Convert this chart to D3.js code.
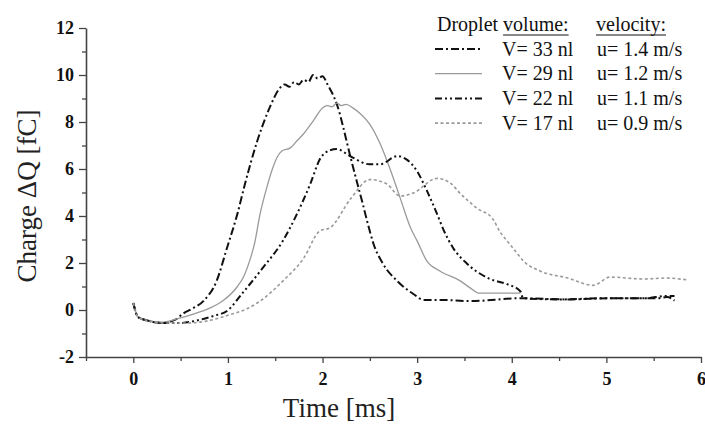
<!DOCTYPE html>
<html><head><meta charset="utf-8">
<script src="https://cdn.jsdelivr.net/npm/d3@7"></script>
<style>body{margin:0;background:#fff}svg{display:block}</style>
</head><body>
<svg id="c" width="705" height="427"></svg>
<script>
// ---- data ----
const xTicks = [0, 1, 2, 3, 4, 5, 6];
const yTicks = [-2, 0, 2, 4, 6, 8, 10, 12];

const t33 = [0, 0.05, 0.15, 0.3, 0.45, 0.52, 0.62, 0.74, 0.88, 0.99, 1.10, 1.18, 1.31, 1.44, 1.55, 1.60, 1.65, 1.70, 1.75, 1.80, 1.85, 1.90, 1.95, 2.00, 2.05, 2.15, 2.29, 2.36, 2.42, 2.47, 2.54, 2.64, 2.79, 2.96, 3.07, 3.24, 3.56, 4.09, 4.6, 5.04, 5.22, 5.54, 5.64, 5.72];
const q33 = [0.3, -0.3, -0.45, -0.55, -0.4, -0.17, 0.05, 0.38, 1.23, 2.64, 4.09, 5.36, 7.19, 8.6, 9.45, 9.6, 9.5, 9.7, 9.6, 9.8, 9.7, 10.0, 9.85, 9.95, 9.62, 8.77, 6.6, 5.5, 4.6, 3.8, 2.8, 1.96, 1.23, 0.68, 0.43, 0.43, 0.38, 0.5, 0.45, 0.5, 0.5, 0.5, 0.55, 0.4];

const t29 = [0, 0.05, 0.15, 0.3, 0.46, 0.65, 0.82, 0.95, 1.1, 1.17, 1.23, 1.28, 1.34, 1.41, 1.47, 1.52, 1.57, 1.66, 1.73, 1.8, 1.9, 2.0, 2.05, 2.1, 2.15, 2.2, 2.25, 2.32, 2.4, 2.5, 2.61, 2.71, 2.82, 2.93, 3.0, 3.1, 3.24, 3.46, 3.56, 3.65, 4.09];
const q29 = [0.3, -0.3, -0.45, -0.52, -0.38, -0.15, 0.1, 0.4, 1.0, 1.45, 2.1, 2.8, 4.09, 5.2, 6.0, 6.5, 6.77, 6.9, 7.2, 7.5, 8.04, 8.6, 8.7, 8.65, 8.8, 8.7, 8.75, 8.6, 8.35, 7.9, 7.06, 6.04, 4.77, 3.5, 2.94, 2.1, 1.66, 1.23, 0.94, 0.72, 0.72];

const t22 = [0, 0.05, 0.15, 0.3, 0.5, 0.67, 0.85, 0.99, 1.16, 1.37, 1.58, 1.73, 1.87, 1.97, 2.08, 2.15, 2.29, 2.5, 2.61, 2.79, 2.89, 3.0, 3.1, 3.21, 3.28, 3.38, 3.53, 3.77, 3.95, 4.09, 4.12, 4.5, 5.0, 5.4, 5.64, 5.72];
const q22 = [0.3, -0.3, -0.45, -0.55, -0.55, -0.45, -0.25, -0.04, 0.75, 1.8, 2.94, 4.09, 5.36, 6.4, 6.8, 6.85, 6.55, 6.2, 6.2, 6.55, 6.4, 5.9, 5.1, 4.09, 3.4, 2.64, 1.96, 1.32, 1.1, 0.8, 0.5, 0.45, 0.5, 0.5, 0.6, 0.6];

const t17 = [0, 0.05, 0.15, 0.3, 0.5, 0.6, 0.8, 1.02, 1.2, 1.34, 1.58, 1.8, 1.97, 2.08, 2.3, 2.5, 2.68, 2.82, 2.96, 3.21, 3.35, 3.46, 3.63, 3.8, 3.88, 3.95, 4.06, 4.12, 4.3, 4.59, 4.86, 5.04, 5.39, 5.64, 5.85];
const q17 = [0.3, -0.3, -0.45, -0.55, -0.55, -0.55, -0.45, -0.2, 0.05, 0.38, 1.23, 2.2, 3.36, 3.5, 4.75, 5.55, 5.36, 4.85, 4.98, 5.6, 5.4, 4.94, 4.34, 3.87, 3.3, 2.94, 2.4, 2.1, 1.66, 1.36, 1.05, 1.4, 1.32, 1.36, 1.28];

const volumes = ["V= 33 nl", "V= 29 nl", "V= 22 nl", "V= 17 nl"];
const velocities = ["u= 1.4 m/s", "u= 1.2 m/s", "u= 1.1 m/s", "u= 0.9 m/s"];

// ---- styles ----
const styles = [
  {stroke: "#111", width: 2.0, dash: "8,3,2,3"},
  {stroke: "#9a9a9a", width: 1.3, dash: null},
  {stroke: "#111", width: 2.0, dash: "7,3,2,3,2,3"},
  {stroke: "#9a9a9a", width: 1.6, dash: "3,2.5"}
];
const seriesT = [t33, t29, t22, t17];
const seriesQ = [q33, q29, q22, q17];

const svg = d3.select("#c");
const x = d3.scaleLinear().domain([-0.5, 6]).range([86, 701]);
const y = d3.scaleLinear().domain([-2, 12]).range([357, 28]);
const serif = "'Liberation Serif','Times New Roman',serif";
const axisColor = "#444";
const fmt = d => String(d);

// axes
const xAxis = svg.append("g").attr("transform", `translate(0,${y(-2)})`)
  .call(d3.axisBottom(x).tickValues(xTicks).tickFormat(fmt).tickSize(6).tickSizeOuter(0));
const yAxis = svg.append("g").attr("transform", `translate(${x(-0.5)},0)`)
  .call(d3.axisLeft(y).tickValues(yTicks).tickFormat(fmt).tickSize(7).tickSizeOuter(0));
// minor ticks
svg.append("g").attr("transform", `translate(0,${y(-2)})`)
  .call(d3.axisBottom(x).tickValues([-0.5,0.5,1.5,2.5,3.5,4.5,5.5]).tickFormat("").tickSize(4).tickSizeOuter(0))
  .call(g => g.select(".domain").remove());
svg.append("g").attr("transform", `translate(${x(-0.5)},0)`)
  .call(d3.axisLeft(y).tickValues([-1,1,3,5,7,9,11]).tickFormat("").tickSize(4).tickSizeOuter(0))
  .call(g => g.select(".domain").remove());
svg.selectAll(".domain").attr("stroke", axisColor).attr("stroke-width", 1.6);
svg.selectAll(".tick line").attr("stroke", axisColor).attr("stroke-width", 1.3);
xAxis.selectAll("text").style("font-family", serif).style("font-weight", "bold").style("font-size", "18px").attr("fill", "#111").attr("dy", "1.05em");
yAxis.selectAll("text").style("font-family", serif).style("font-weight", "bold").style("font-size", "18px").attr("fill", "#111").attr("x", -12);

// axis titles
svg.append("text").attr("x", 339).attr("y", 417).attr("text-anchor", "middle")
  .attr("font-family", serif).attr("font-size", 27).attr("fill", "#222").text("Time [ms]");
svg.append("text").attr("transform", "translate(36,196) rotate(-90)").attr("text-anchor", "middle")
  .attr("font-family", serif).attr("font-size", 27).attr("fill", "#222").text("Charge ΔQ [fC]");

// lines
const line = d3.line().x(d => x(d[0])).y(d => y(d[1])).curve(d3.curveMonotoneX);
seriesT.forEach((ts, i) => {
  const pts = ts.map((t, j) => [t, seriesQ[i][j]]);
  svg.append("path").datum(pts).attr("d", line).attr("fill", "none")
    .attr("stroke", styles[i].stroke).attr("stroke-width", styles[i].width)
    .attr("stroke-dasharray", styles[i].dash).attr("stroke-linejoin", "round");
});

// legend
const lg = svg.append("g").attr("font-family", serif).attr("font-size", 20).attr("fill", "#111");
const hdr1 = lg.append("text").attr("x", 437).attr("y", 31).text("Droplet");
const w1 = hdr1.node().getComputedTextLength() + 5;
const vol = lg.append("text").attr("x", 437 + w1).attr("y", 31).text("volume:");
const wv = vol.node().getComputedTextLength();
lg.append("line").attr("x1", 437 + w1).attr("x2", 437 + w1 + wv).attr("y1", 35).attr("y2", 35).attr("stroke", "#111").attr("stroke-width", 1);
const vel = lg.append("text").attr("x", 596).attr("y", 31).text("velocity:");
const wl = vel.node().getComputedTextLength();
lg.append("line").attr("x1", 596).attr("x2", 596 + wl).attr("y1", 35).attr("y2", 35).attr("stroke", "#111").attr("stroke-width", 1);
volumes.forEach((v, i) => {
  const cy = 49 + i * 24.7;
  lg.append("line").attr("x1", 435).attr("x2", 482).attr("y1", cy).attr("y2", cy)
    .attr("stroke", styles[i].stroke).attr("stroke-width", styles[i].width).attr("stroke-dasharray", styles[i].dash);
  lg.append("text").attr("x", 502).attr("y", cy + 6.5).text(v);
  lg.append("text").attr("x", 597).attr("y", cy + 6.5).text(velocities[i]);
});
</script>
</body></html>
